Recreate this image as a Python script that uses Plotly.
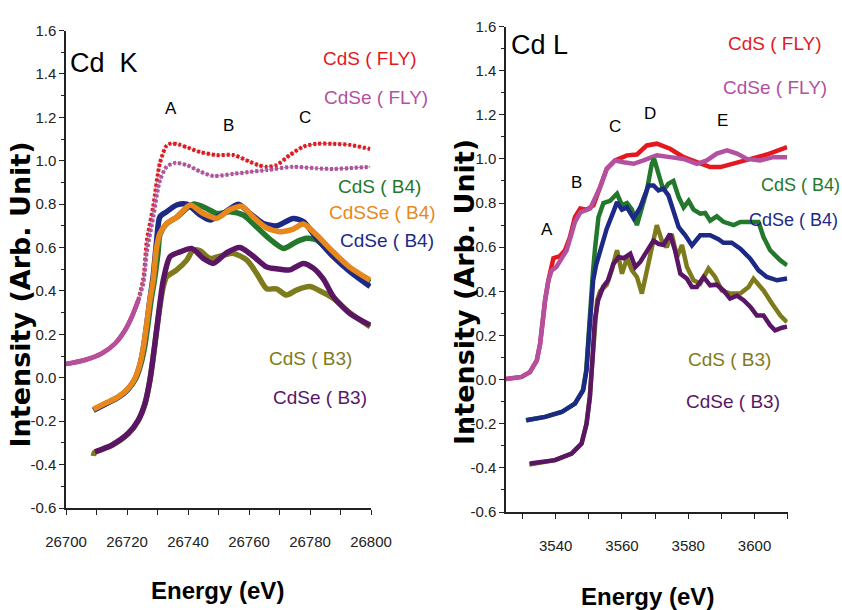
import plotly.graph_objects as go

# ---------------- data: Cd K edge (left panel) ----------------
k_fly_cds_x = [26700, 26706.2, 26711.7, 26716.1, 26719.4, 26721.6, 26723.7, 26725.4, 26726.5, 26728.6, 26730.8,
               26733, 26734.6, 26737, 26740, 26744, 26749.4, 26754.9, 26760.3, 26763, 26765.8, 26769, 26773.4,
               26777.8, 26782.2, 26787.6, 26793, 26799.7]
k_fly_cds_y = [0.063, 0.082, 0.112, 0.158, 0.22, 0.281, 0.358, 0.46, 0.63, 0.79, 0.99,
               1.07, 1.08, 1.075, 1.06, 1.04, 1.026, 1.026, 0.995, 0.98, 0.972, 0.98, 1.026,
               1.065, 1.078, 1.078, 1.073, 1.054]

k_fly_cdse_x = [26700, 26706.2, 26711.7, 26716.1, 26719.4, 26721.6, 26723.7, 26725.4, 26726.5, 26728.6, 26730.8,
                26733, 26735.7, 26739.6, 26744, 26748.3, 26755, 26760, 26765.8, 26774.5, 26782.2, 26787.6,
                26793, 26799.7]
k_fly_cdse_y = [0.063, 0.082, 0.112, 0.158, 0.22, 0.281, 0.355, 0.44, 0.58, 0.74, 0.91,
                0.972, 0.99, 0.98, 0.95, 0.93, 0.94, 0.948, 0.957, 0.972, 0.965, 0.962,
                0.966, 0.972]

k_b4_cds_x = [26709, 26712.8, 26717.1, 26720.4, 26722.9, 26724.6, 26725.8, 26726.9, 26727.9, 26729, 26730.2,
              26730.8, 26733, 26736.3, 26741.7, 26746.1, 26749.4, 26753.8, 26758.1, 26762.5, 26766.9, 26771.3,
              26775.6, 26778.9, 26782.2, 26787.6, 26793, 26799.7]
k_b4_cds_y = [-0.148, -0.121, -0.09, -0.051, -0.003, 0.066, 0.143, 0.25, 0.358, 0.45, 0.58,
              0.66, 0.71, 0.74, 0.80, 0.78, 0.757, 0.765, 0.75, 0.695, 0.638, 0.596,
              0.627, 0.643, 0.635, 0.565, 0.503, 0.44]

k_b4_cdse_x = [26709, 26712.8, 26717.1, 26720.4, 26722.6, 26724.3, 26725.4, 26726.5, 26727.5, 26728.6, 26729.7,
               26730.8, 26733, 26736.3, 26739.6, 26744, 26747.2, 26751.6, 26756.5, 26760.3, 26764.7, 26769,
               26774.5, 26777.8, 26782.2, 26787.6, 26793, 26799.7]
k_b4_cdse_y = [-0.15, -0.122, -0.091, -0.052, -0.006, 0.063, 0.14, 0.25, 0.36, 0.47, 0.63,
               0.742, 0.765, 0.796, 0.80, 0.75, 0.727, 0.757, 0.80, 0.757, 0.711, 0.70,
               0.734, 0.72, 0.643, 0.558, 0.49, 0.42]

k_b4_cdsse_x = [26709, 26712.8, 26717.1, 26720.4, 26722.6, 26724.3, 26725.4, 26726.5, 26727.5, 26728.6, 26729.7,
                26730.8, 26733, 26736.3, 26740.7, 26745, 26749.4, 26753.8, 26757.7, 26761.4, 26765.8, 26770.2,
                26774.5, 26777.8, 26782.2, 26787.6, 26793, 26799.7]
k_b4_cdsse_y = [-0.145, -0.118, -0.088, -0.049, -0.003, 0.066, 0.143, 0.25, 0.358, 0.45, 0.6,
                0.665, 0.71, 0.74, 0.796, 0.757, 0.735, 0.775, 0.79, 0.74, 0.69, 0.673,
                0.685, 0.708, 0.658, 0.58, 0.51, 0.45]

k_b3_cds_x = [26709, 26709.3, 26715, 26720.4, 26723.7, 26725.9, 26727.5, 26728.6, 26729.7, 26730.8, 26731.9,
              26733, 26736.3, 26739.6, 26741.7, 26744, 26747.2, 26751.6, 26755, 26759.3, 26762.5, 26765.8,
              26769, 26772.3, 26775.6, 26779.9, 26783.3, 26787.6, 26793, 26799.7]
k_b3_cds_y = [-0.36, -0.345, -0.312, -0.258, -0.197, -0.12, -0.013, 0.095, 0.215, 0.33, 0.42,
              0.465, 0.497, 0.542, 0.588, 0.585, 0.55, 0.565, 0.573, 0.542, 0.481, 0.41,
              0.41, 0.381, 0.404, 0.42, 0.40, 0.366, 0.30, 0.235]

k_b3_cdse_x = [26709.5, 26715, 26720.4, 26723.7, 26725.9, 26727.5, 26728.6, 26729.7, 26730.8, 26731.9, 26734.1,
               26737.4, 26741.2, 26745, 26748.3, 26752.7, 26757, 26761.4, 26765.8, 26770.2, 26773.4,
               26777.8, 26781.1, 26784.4, 26787.6, 26793, 26799.7]
k_b3_cdse_y = [-0.341, -0.31, -0.256, -0.195, -0.118, -0.011, 0.097, 0.22, 0.343, 0.45, 0.558,
               0.58, 0.596, 0.55, 0.527, 0.576, 0.60, 0.56, 0.51, 0.50, 0.497,
               0.527, 0.505, 0.454, 0.375, 0.297, 0.243]

# ---------------- data: Cd L edge (right panel) ----------------
l_fly_cds_x = [3525, 3529.7, 3532.2, 3534.3, 3535.3, 3536, 3536.8, 3537.8, 3539.3, 3541.3, 3542.8, 3544.3,
               3545.8, 3547.4, 3549.4, 3551.4, 3553.4, 3555.4, 3557.9, 3561.5, 3564.5, 3567.5, 3570.5,
               3574.5, 3578.6, 3582.6, 3586.6, 3589.7, 3593.7, 3598.7, 3603.7, 3609.8]
l_fly_cds_y = [0.003, 0.012, 0.034, 0.087, 0.163, 0.27, 0.36, 0.45, 0.55, 0.56, 0.586, 0.646,
               0.736, 0.775, 0.77, 0.79, 0.872, 0.955, 0.993, 1.016, 1.02, 1.061, 1.069,
               1.046, 1.008, 0.985, 0.963, 0.963, 0.98, 1.0, 1.02, 1.053]

l_fly_cdse_x = [3525, 3529.7, 3532.2, 3534.3, 3535.3, 3536, 3536.8, 3537.8, 3538.8, 3540.2, 3543.3, 3545.8,
                3547.4, 3550.4, 3553.4, 3555.4, 3557.9, 3560.5, 3563.5, 3566.5, 3570.5, 3574.5, 3578.6,
                3582.6, 3585.6, 3588.6, 3591.7, 3594.7, 3597.7, 3601.7, 3605.7, 3609.8]
l_fly_cdse_y = [0.003, 0.012, 0.034, 0.087, 0.163, 0.27, 0.36, 0.45, 0.495, 0.51, 0.586, 0.714,
                0.757, 0.775, 0.872, 0.955, 0.993, 0.985, 0.978, 0.993, 1.016, 1.008, 1.0,
                0.978, 0.993, 1.024, 1.039, 1.024, 1.0, 0.993, 1.008, 1.008]

l_b4_cds_x = [3531, 3536.8, 3541.8, 3545.8, 3548.2, 3549.2, 3549.9, 3550.5, 3551.2, 3551.9, 3552.9, 3554.4,
              3556.4, 3558.5, 3560, 3561.5, 3563, 3564.5, 3566, 3567.5, 3569, 3569.7, 3571, 3572.5, 3574,
              3575.5, 3577.1, 3578.6, 3580.1, 3581.6, 3583.6, 3585.1, 3586.6, 3588.6, 3590.6, 3593.7, 3595.7,
              3599.7, 3601.2, 3602.7, 3604.7, 3607.8, 3609.8]
l_b4_cds_y = [-0.184, -0.169, -0.147, -0.109, -0.048, 0.042, 0.193, 0.344, 0.48, 0.6, 0.736, 0.80,
              0.81, 0.842, 0.79, 0.80, 0.77, 0.70, 0.78, 0.857, 0.978, 1.0, 0.933, 0.857, 0.888,
              0.90, 0.827, 0.78, 0.81, 0.77, 0.752, 0.755, 0.72, 0.74, 0.715, 0.70, 0.714,
              0.714, 0.714, 0.646, 0.586, 0.54, 0.518]

l_b4_cdse_x = [3531.2, 3536.8, 3541.8, 3545.8, 3548.3, 3549.3, 3550, 3550.6, 3551.3, 3552.2, 3553.4, 3555.4,
               3557.4, 3558.5, 3560, 3561.5, 3563.5, 3565.5, 3568, 3569.5, 3571, 3572.5, 3574, 3575.5,
               3577.1, 3579.1, 3581.1, 3583.6, 3586.6, 3589.1, 3590.6, 3593.1, 3595.7, 3598.7, 3601.2,
               3603.7, 3606.8, 3609.8]
l_b4_cdse_y = [-0.184, -0.169, -0.147, -0.109, -0.048, 0.042, 0.193, 0.344, 0.45, 0.52, 0.586, 0.684,
               0.76, 0.804, 0.77, 0.78, 0.73, 0.78, 0.88, 0.88, 0.857, 0.865, 0.835, 0.767,
               0.691, 0.654, 0.608, 0.654, 0.654, 0.636, 0.62, 0.62, 0.593, 0.548, 0.495,
               0.465, 0.45, 0.458]

l_b3_cds_x = [3532, 3539.8, 3544.8, 3547.8, 3549.3, 3550.3, 3551, 3551.8, 3552.5, 3553.4, 3555.4, 3556.9,
              3558.5, 3560, 3561.5, 3563, 3564.5, 3566, 3567.5, 3569, 3570.5, 3572, 3573.5, 3575, 3576.6,
              3578.1, 3579.6, 3581.6, 3583.6, 3586.1, 3588.1, 3590.1, 3592.6, 3595.7, 3598.2, 3599.7,
              3602.7, 3605.3, 3607.8, 3609.8]
l_b3_cds_y = [-0.385, -0.365, -0.335, -0.29, -0.2, -0.079, 0.072, 0.27, 0.36, 0.40, 0.43, 0.495,
              0.586, 0.48, 0.55, 0.495, 0.465, 0.39, 0.495, 0.616, 0.70, 0.63, 0.60, 0.66, 0.555,
              0.61, 0.51, 0.45, 0.435, 0.503, 0.465, 0.404, 0.39, 0.39, 0.42, 0.457,
              0.404, 0.344, 0.29, 0.26]

l_b3_cdse_x = [3532.2, 3539.8, 3544.8, 3547.8, 3549.3, 3550.3, 3551, 3551.8, 3552.8, 3554.3, 3555.8, 3557.4,
               3559, 3560.5, 3562.5, 3564, 3565.5, 3567.5, 3569.5, 3571, 3572.5, 3574.5, 3576, 3577.6,
               3579.6, 3581.1, 3582.6, 3584.6, 3586.6, 3588.6, 3590.6, 3592.6, 3594.7, 3596.7, 3598.7,
               3600.7, 3602.7, 3604.7, 3606.2, 3608.3, 3609.8]
l_b3_cdse_y = [-0.38, -0.365, -0.335, -0.29, -0.2, -0.079, 0.072, 0.27, 0.36, 0.42, 0.45, 0.525,
               0.555, 0.55, 0.57, 0.51, 0.533, 0.586, 0.63, 0.615, 0.61, 0.66, 0.586, 0.48,
               0.457, 0.42, 0.42, 0.465, 0.427, 0.43, 0.404, 0.367, 0.38, 0.36, 0.33,
               0.29, 0.29, 0.246, 0.223, 0.235, 0.24]

# tick labels
y_tickvals = [-0.6, -0.4, -0.2, 0.0, 0.2, 0.4, 0.6, 0.8, 1.0, 1.2, 1.4, 1.6]
y_ticktext = ["-0.6", "-0.4", "-0.2", "0.0", "0.2", "0.4", "0.6", "0.8", "1.0", "1.2", "1.4", "1.6"]
k_xticks = [26700, 26720, 26740, 26760, 26780, 26800]
l_xticks = [3540, 3560, 3580, 3600]

# colours
RED = "#e3191f"
MAG = "#b3509f"
GREEN = "#23782c"
ORANGE = "#e8871c"
NAVY = "#1c2a86"
OLIVE = "#7e7b1c"
PURPLE = "#5a1565"

SANS = "Liberation Sans, Arial, sans-serif"
BOLD = "DejaVu Sans, Arial, sans-serif"

fig = go.Figure()

def line(x, y, color, width, xa, ya, dash="solid", shape="linear"):
    ln = dict(color=color, width=width, dash=dash, shape=shape)
    if shape == "spline":
        ln["smoothing"] = 0.7
    fig.add_trace(go.Scatter(x=x, y=y, mode="lines", xaxis=xa, yaxis=ya, line=ln,
                             showlegend=False, hoverinfo="skip"))

# left panel: FLY traces (thin grey connector + square dots)
split = 7
for xs, ys, col in [(k_fly_cds_x, k_fly_cds_y, RED), (k_fly_cdse_x, k_fly_cdse_y, MAG)]:
    line(xs, ys, "#9a9a9a", 1, "x", "y", shape="spline")
    line(xs[:split], ys[:split], col, 4.5, "x", "y", shape="spline")
    line(xs[split - 1:], ys[split - 1:], col, 4, "x", "y", dash="3px,2px", shape="spline")

line(k_b4_cds_x, k_b4_cds_y, GREEN, 5.5, "x", "y", shape="spline")
line(k_b4_cdse_x, k_b4_cdse_y, NAVY, 5.5, "x", "y", shape="spline")
line(k_b4_cdsse_x, k_b4_cdsse_y, ORANGE, 5.5, "x", "y", shape="spline")
line(k_b3_cds_x, k_b3_cds_y, OLIVE, 5.5, "x", "y", shape="spline")
line(k_b3_cdse_x, k_b3_cdse_y, PURPLE, 5.5, "x", "y", shape="spline")

# right panel
line(l_fly_cds_x, l_fly_cds_y, RED, 4.5, "x2", "y2")
line(l_fly_cdse_x, l_fly_cdse_y, MAG, 4.5, "x2", "y2")
line(l_b4_cds_x, l_b4_cds_y, GREEN, 4.5, "x2", "y2")
line(l_b4_cdse_x, l_b4_cdse_y, NAVY, 4.5, "x2", "y2")
line(l_b3_cds_x, l_b3_cds_y, OLIVE, 4.5, "x2", "y2")
line(l_b3_cdse_x, l_b3_cdse_y, PURPLE, 4.5, "x2", "y2")

W, H = 842, 610

def px(x):
    return x / W

def py(y):
    return 1 - y / H

axis_common = dict(showline=True, linecolor="#222222", linewidth=1.5, showgrid=False, zeroline=False,
                   ticks="outside", ticklen=5, tickwidth=1.2, tickcolor="#222222", mirror=False,
                   automargin=False,
                   tickfont=dict(family=SANS, size=15, color="#222222"))

fig.update_layout(
    width=W, height=H, margin=dict(l=0, r=0, t=0, b=0, pad=0), autosize=False,
    paper_bgcolor="white", plot_bgcolor="white", showlegend=False,
    xaxis=dict(domain=[px(66), px(371)], range=[26700, 26800], anchor="y",
               tickvals=k_xticks, ticktext=[str(v) for v in k_xticks], ticklabelstandoff=14,
               minor=dict(ticks="outside", ticklen=5, dtick=10, tick0=26700, tickcolor="#222222"),
               **axis_common),
    yaxis=dict(domain=[py(508), py(30.5)], range=[-0.6, 1.6], anchor="x",
               tickvals=y_tickvals, ticktext=y_ticktext,
               minor=dict(ticks="outside", ticklen=3, dtick=0.1, tick0=0, tickcolor="#222222"),
               **axis_common),
    xaxis2=dict(domain=[px(506), px(787.7)], range=[3525, 3610], anchor="y2",
                tickvals=l_xticks, ticktext=[str(v) for v in l_xticks], ticklabelstandoff=14,
                minor=dict(ticks="outside", ticklen=5, dtick=10, tick0=3530, tickcolor="#222222"),
                **axis_common),
    yaxis2=dict(domain=[py(512), py(26.5)], range=[-0.6, 1.6], anchor="x2",
                tickvals=y_tickvals, ticktext=y_ticktext,
                minor=dict(ticks="outside", ticklen=3, dtick=0.1, tick0=0, tickcolor="#222222"),
                **axis_common),
)

def text(t, x, y, color="black", size=19, family=SANS, angle=0, xanchor="center", weight="normal"):
    fig.add_annotation(text=t, x=px(x), y=py(y), xref="paper", yref="paper", showarrow=False,
                       xanchor=xanchor, yanchor="middle", textangle=angle,
                       font=dict(family=family, size=size, color=color, weight=weight))

# left panel labels
text("Cd  K", 104, 63, size=27)
text("A", 171, 108, size=17)
text("B", 228, 125, size=17)
text("C", 305, 117, size=17)
text("CdS ( FLY)", 370, 58, RED)
text("CdSe ( FLY)", 376, 97, MAG)
text("CdS ( B4)", 379, 187, GREEN)
text("CdSSe ( B4)", 382, 212, ORANGE)
text("CdSe ( B4)", 387, 241, NAVY)
text("CdS ( B3)", 310, 358, OLIVE)
text("CdSe ( B3)", 320, 397, PURPLE)

# right panel labels
text("Cd L", 539, 45, size=27)
text("A", 547, 230, size=17)
text("B", 576, 182, size=17)
text("C", 615, 127, size=17)
text("D", 650, 113, size=17)
text("E", 722, 120, size=17)
text("CdS ( FLY)", 775, 43, RED)
text("CdSe ( FLY)", 775, 88, MAG)
text("CdS ( B4)", 800, 185, GREEN, size=18)
text("CdSe ( B4)", 840, 220, NAVY, size=18, xanchor="right")
text("CdS ( B3)", 729, 359, OLIVE)
text("CdSe ( B3)", 733, 401, PURPLE)

# axis titles
text("Intensity (Arb. Unit)", 19.5, 295, size=27, family=BOLD, angle=-90, weight="bold")
text("Intensity (Arb. Unit)", 464, 292, size=27, family=BOLD, angle=-90, weight="bold")
text("Energy (eV)", 218, 590, size=24, weight="bold")
text("Energy (eV)", 647, 596, size=24, weight="bold")

fig.write_html("out.html")
